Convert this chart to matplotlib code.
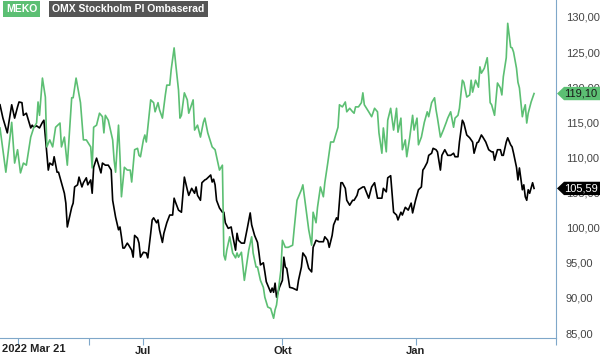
import matplotlib
matplotlib.use('Agg')
import matplotlib.pyplot as plt
from matplotlib.patches import Polygon
from matplotlib.transforms import blended_transform_factory

plt.rcParams['font.family'] = ['Liberation Sans', 'DejaVu Sans']

# days since 2022-03-21 and index values
meko_days = [0, 4, 8, 10, 12, 14, 16, 18, 21, 23, 25, 26, 27, 29, 31, 32, 34, 36, 38, 41,
             42, 44, 46, 49, 50, 52, 55, 57, 59, 62, 63, 64, 66, 68, 70, 71, 72, 74, 77, 78,
             79, 81, 82, 83, 85, 87, 89, 90, 92, 94, 95, 96, 98, 99, 100, 103, 105, 106, 108, 109,
             111, 113, 114, 116, 117, 119, 120, 122, 123, 124, 126, 128, 129, 132, 133, 135, 137, 139, 140, 142,
             145, 147, 149, 150, 152, 153, 154, 155, 157, 159, 161, 162, 163, 165, 167, 170, 172, 173, 175, 176,
             178, 180, 181, 183, 185, 187, 188, 189, 190, 192, 193, 195, 197, 200, 201, 203, 204, 206, 207, 209,
             211, 213, 214, 216, 217, 219, 221, 222, 224, 226, 228, 230, 231, 232, 234, 236, 237, 239, 241, 242,
             243, 245, 247, 248, 249, 252, 254, 256, 258, 259, 261, 262, 264, 265, 267, 269, 271, 272, 274, 275,
             277, 278, 280, 282, 283, 285, 286, 288, 290, 292, 293, 295, 297, 298, 299, 301, 303, 305, 306, 308,
             310, 311, 313, 314, 316, 317, 319, 321, 322, 323, 325, 327, 328, 329, 331, 333, 334, 335, 336, 338,
             340, 342, 343, 344, 346, 347, 349, 350, 351, 353, 354, 355, 357, 358, 359, 360, 361, 363, 365]
meko = [114.2, 107.9, 115.0, 109.2, 111.1, 107.8, 109.2, 108.9, 112.9, 114.2, 114.9, 117.9, 116.0, 121.3, 118.6, 111.5, 112.5, 111.5, 114.3, 114.9,
        111.5, 112.9, 108.9, 118.5, 118.5, 121.3, 117.8, 112.5, 112.5, 111.5, 108.5, 114.3, 114.6, 116.3, 115.8, 113.5, 116.0, 115.3, 112.5, 109.6,
        107.9, 114.6, 110.1, 104.4, 108.6, 108.2, 108.2, 106.5, 111.1, 111.3, 110.3, 110.1, 112.5, 113.2, 112.2, 118.2, 117.8, 116.5, 117.8, 116.8,
        115.6, 118.9, 120.3, 120.3, 122.5, 125.6, 123.5, 119.6, 115.6, 116.0, 119.2, 118.2, 116.3, 118.2, 113.9, 114.6, 112.9, 115.0, 115.6, 113.5,
        111.5, 111.1, 109.2, 108.2, 108.9, 96.1, 95.4, 96.8, 98.7, 96.4, 95.7, 96.4, 95.8, 96.5, 92.5, 96.8, 98.7, 96.4, 94.4, 94.4,
        92.5, 91.5, 90.1, 88.7, 88.5, 87.1, 88.3, 89.0, 90.7, 94.0, 98.2, 97.2, 97.2, 97.5, 99.7, 103.9, 104.4, 105.4, 106.1, 102.9,
        99.7, 97.5, 102.2, 100.7, 102.9, 105.8, 104.4, 106.4, 109.2, 112.2, 112.2, 113.6, 114.3, 117.5, 117.2, 117.9, 116.5, 117.0, 116.5, 116.3,
        117.2, 117.2, 117.8, 119.2, 117.5, 116.5, 115.8, 117.0, 116.5, 113.5, 110.6, 114.2, 110.8, 115.3, 117.0, 113.9, 117.0, 113.6, 115.6, 111.1,
        112.5, 110.1, 112.8, 116.0, 113.9, 115.6, 111.8, 112.9, 115.0, 116.5, 115.8, 117.8, 118.5, 116.8, 115.6, 112.9, 113.9, 115.0, 115.6, 116.5,
        114.3, 115.6, 116.0, 117.0, 121.0, 120.7, 118.6, 118.9, 121.0, 119.3, 121.0, 120.0, 122.9, 122.0, 122.7, 124.2, 121.5, 117.8, 117.5, 116.0,
        120.6, 119.9, 118.9, 121.5, 124.2, 129.1, 125.7, 125.6, 125.0, 122.7, 120.7, 119.9, 115.8, 116.8, 117.5, 114.9, 116.3, 117.9, 119.1]

omx_days = [0, 2, 5, 6, 8, 10, 12, 13, 15, 16, 18, 19, 21, 22, 23, 25, 27, 29, 30, 31,
            33, 34, 36, 37, 39, 40, 42, 44, 45, 46, 49, 50, 51, 53, 54, 56, 57, 59, 60, 62,
            63, 64, 66, 67, 69, 70, 72, 74, 76, 77, 79, 81, 82, 83, 84, 85, 87, 88, 90, 91,
            92, 94, 95, 96, 98, 100, 101, 103, 104, 105, 107, 108, 109, 111, 112, 114, 116, 118, 119, 120,
            122, 124, 126, 128, 129, 131, 133, 134, 135, 137, 138, 140, 141, 144, 145, 146, 147, 148, 150, 152,
            153, 154, 156, 158, 159, 161, 162, 163, 165, 167, 169, 171, 172, 174, 176, 177, 178, 180, 181, 182,
            185, 186, 187, 188, 189, 191, 193, 194, 195, 196, 198, 200, 203, 204, 206, 207, 209, 211, 213, 214,
            216, 218, 221, 222, 224, 225, 227, 228, 230, 231, 233, 234, 236, 237, 239, 241, 242, 244, 245, 248,
            249, 252, 254, 256, 258, 261, 262, 264, 265, 267, 269, 271, 272, 274, 275, 277, 279, 281, 282, 284,
            286, 288, 289, 290, 292, 293, 295, 296, 298, 299, 301, 302, 304, 306, 308, 310, 311, 313, 314, 316,
            317, 319, 321, 323, 324, 326, 327, 329, 330, 332, 334, 336, 337, 338, 340, 342, 343, 344, 346, 347,
            349, 350, 351, 353, 354, 355, 357, 358, 359, 360, 361, 362, 364, 365]
omx = [117.5, 115.6, 113.5, 114.9, 117.5, 115.6, 117.2, 117.9, 117.8, 116.0, 116.3, 115.6, 114.2, 114.6, 114.3, 114.5, 114.2, 115.0, 115.3, 112.9,
       108.2, 109.2, 108.9, 110.1, 107.9, 107.9, 106.4, 104.9, 103.5, 100.1, 102.9, 103.5, 105.8, 106.1, 107.2, 105.8, 106.4, 107.1, 106.1, 106.8,
       104.9, 108.6, 109.9, 109.2, 107.8, 109.2, 108.9, 108.9, 108.2, 103.9, 101.5, 99.7, 100.1, 98.7, 97.1, 97.1, 97.8, 97.5, 96.8, 95.8,
       98.9, 98.5, 97.8, 95.8, 96.5, 96.4, 95.7, 99.2, 101.1, 101.4, 100.7, 101.1, 99.7, 97.9, 99.2, 100.7, 101.8, 101.8, 104.2, 103.6,
       102.5, 102.2, 107.2, 105.4, 104.6, 105.6, 104.9, 105.8, 104.6, 103.9, 106.4, 106.8, 106.9, 107.5, 106.5, 106.9, 106.1, 103.9, 102.8, 102.2,
       102.2, 100.7, 99.9, 100.1, 98.9, 96.8, 99.2, 98.2, 97.8, 97.8, 99.9, 102.1, 100.4, 98.9, 97.9, 96.4, 94.7, 95.0, 93.7, 92.3,
       90.8, 91.4, 90.8, 92.1, 90.1, 91.5, 92.5, 95.8, 94.4, 94.2, 91.5, 91.4, 91.1, 92.5, 94.4, 96.4, 95.8, 94.2, 93.7, 97.2,
       98.2, 98.0, 98.0, 98.7, 98.2, 97.2, 98.9, 100.4, 101.4, 101.1, 106.4, 106.4, 105.6, 103.9, 103.2, 103.9, 103.9, 104.6, 105.4, 105.8,
       105.8, 104.2, 105.8, 106.4, 104.2, 104.2, 105.6, 105.1, 107.1, 107.4, 102.2, 101.8, 101.1, 102.2, 101.8, 102.9, 102.5, 103.5, 102.1, 103.9,
       105.4, 105.8, 108.2, 108.5, 109.3, 110.3, 110.6, 111.3, 111.1, 110.8, 108.2, 110.3, 111.1, 110.3, 110.3, 110.6, 110.1, 110.1, 112.2, 115.3,
       114.9, 113.2, 112.8, 112.2, 110.6, 112.1, 112.2, 113.2, 112.9, 112.2, 111.1, 110.8, 110.8, 109.6, 111.1, 111.1, 110.3, 110.3, 112.2, 112.8,
       111.8, 111.5, 110.6, 108.6, 106.8, 108.5, 105.4, 106.1, 104.4, 103.9, 105.4, 104.9, 106.4, 105.59]

y_ticks = [85, 90, 95, 100, 105, 110, 115, 120, 125, 130]
x_tick_days = [12, 61, 98, 193, 284, 380]
x_tick_labels = ['', '', 'Jul', 'Okt', 'Jan', '']
start_label = '2022 Mar 21'
names = ['MEKO', 'OMX Stockholm PI Ombaserad']

green = '#5cbf73'
spine_col = '#7fa7c9'

fig = plt.figure(figsize=(6, 3.56), dpi=100)
ax = fig.add_axes([0, 18 / 356, 556 / 600, 338 / 356])

ax.plot(omx_days, omx, color='black', lw=1.2)
ax.plot(meko_days, meko, color=green, lw=1.2)

ax.set_xlim(0, 380)
ax.set_ylim(84.29, 132.42)

for s in ['top', 'left']:
    ax.spines[s].set_visible(False)
ax.spines['right'].set_color(spine_col)
ax.spines['bottom'].set_color(spine_col)

ax.yaxis.tick_right()
ax.set_yticks(y_ticks)
ax.set_yticklabels([f'{v:.2f}'.replace('.', ',') for v in y_ticks])
ax.tick_params(axis='y', length=0, pad=7, labelsize=8, labelcolor='#444444')

ax.set_xticks(x_tick_days)
ax.set_xticklabels(x_tick_labels, fontweight='bold')
ax.tick_params(axis='x', length=5, color=spine_col, pad=1, labelsize=8, labelcolor='#222222')
ax.get_xticklines()[2].set_color('#e05050')
ax.text(0.004, -0.018, start_label, transform=ax.transAxes, ha='left', va='top',
        fontsize=8, fontweight='bold', color='#222222')

# legend boxes
fig.text(6 / 600, 1 - 9 / 356, names[0], ha='left', va='center', fontsize=7.5, fontweight='bold',
         color='white', bbox=dict(boxstyle='square,pad=0.3', fc=green, ec='none'))
fig.text(52 / 600, 1 - 9 / 356, names[1], ha='left', va='center', fontsize=7.5, fontweight='bold',
         color='white', bbox=dict(boxstyle='square,pad=0.3', fc='#555555', ec='none'))

# last value tags
tr = blended_transform_factory(fig.transFigure, ax.transData)
h = 0.95
for v, fc, tc in [(meko[-1], green, '#1a1a1a'), (omx[-1], 'black', 'white')]:
    pts = [(557 / 600, v), (564 / 600, v + h), (1.0, v + h), (1.0, v - h), (564 / 600, v - h)]
    fig.add_artist(Polygon(pts, closed=True, transform=tr, fc=fc, ec='none', clip_on=False, zorder=5))
    fig.text(581 / 600, 0, f'{v:.2f}'.replace('.', ','), transform=tr, ha='center', va='center',
             fontsize=8, color=tc, zorder=6).set_y(v)

fig.savefig('out.png', dpi=100)
